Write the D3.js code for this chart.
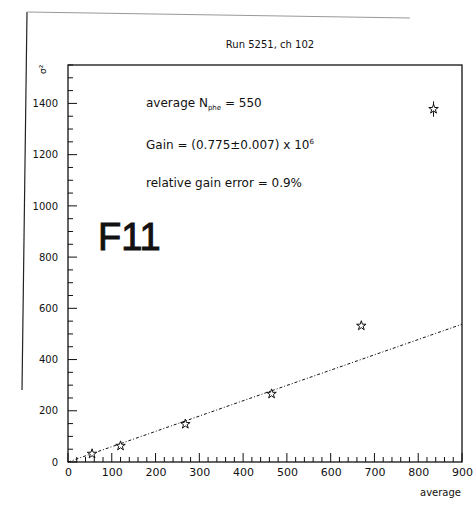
<!DOCTYPE html>
<html>
<head>
<meta charset="utf-8">
<script src="https://cdn.jsdelivr.net/npm/d3@7"></script>
<style>
  body { margin: 0; background: #fff; }
  text { font-family: "DejaVu Sans", sans-serif; fill: #111; }
</style>
</head>
<body>
<div id="chart"></div>
<script>

// points
var avgValues = [55, 120, 268, 465, 670, 835];
var sigmaValues = [32, 63, 148, 266, 532, 1378];
var sigmaErrors = [0, 0, 0, 0, 0, 30];
var fitLine = [[0, 0], [900, 538]];
var xTicks = [0, 100, 200, 300, 400, 500, 600, 700, 800, 900];
var yTicks = [0, 200, 400, 600, 800, 1000, 1200, 1400];

var margin = {top: 65, right: 14, bottom: 43, left: 68},
    width = 476 - margin.left - margin.right,
    height = 505 - margin.top - margin.bottom;

var x = d3.scaleLinear().domain([0, 900]).range([0, width]);
var y = d3.scaleLinear().domain([0, 1550]).range([height, 0]);

var root = d3.select("#chart").append("svg")
    .attr("width", 476)
    .attr("height", 505);

// outer scan frame
root.append("path")
    .attr("d", "M22,390 L27,12")
    .attr("fill", "none").attr("stroke", "#222").attr("stroke-width", 1.2);
root.append("path")
    .attr("d", "M27,12 L410,18")
    .attr("fill", "none").attr("stroke", "#999").attr("stroke-width", 1);

root.append("text")
    .attr("x", 270).attr("y", 48)
    .attr("text-anchor", "middle")
    .style("font-size", "10px")
    .text("Run 5251, ch 102");

root.append("text")
    .attr("transform", "translate(46,74) rotate(-90)")
    .style("font-size", "9px")
    .text("σ²");

var svg = root.append("g")
    .attr("transform", "translate(" + margin.left + "," + margin.top + ")");

svg.append("rect")
    .attr("width", width).attr("height", height)
    .attr("fill", "none").attr("stroke", "#111").attr("stroke-width", 1.3);

// minor ticks
svg.append("g").selectAll("line")
    .data(d3.range(0, 901, 20))
    .enter().append("line")
    .attr("x1", function(d) { return x(d); })
    .attr("x2", function(d) { return x(d); })
    .attr("y1", height)
    .attr("y2", function(d) { return d % 100 == 0 ? height - 9 : height - 5; })
    .attr("stroke", "#111");

svg.append("g").selectAll("line")
    .data(d3.range(0, 1551, 50))
    .enter().append("line")
    .attr("y1", function(d) { return y(d); })
    .attr("y2", function(d) { return y(d); })
    .attr("x1", 0)
    .attr("x2", function(d) { return d % 200 == 0 ? 9 : 5; })
    .attr("stroke", "#111");

var xAxis = d3.axisBottom(x).tickValues(xTicks).tickSize(0).tickPadding(6);
var yAxis = d3.axisLeft(y).tickValues(yTicks).tickFormat(d3.format("d"))
    .tickSize(0).tickPadding(10);

svg.append("g")
    .attr("class", "x_axis")
    .attr("transform", "translate(0," + height + ")")
    .call(xAxis)
    .call(function(g) { g.select(".domain").remove(); })
    .selectAll("text").style("font-size", "11px");

svg.append("g")
    .attr("class", "y_axis")
    .call(yAxis)
    .call(function(g) { g.select(".domain").remove(); })
    .selectAll("text").style("font-size", "10px");

root.append("text")
    .attr("x", 461).attr("y", 496)
    .attr("text-anchor", "end")
    .style("font-size", "10px")
    .text("average");

// fit line
svg.append("path")
    .datum(fitLine)
    .attr("d", d3.line()
        .x(function(d) { return x(d[0]); })
        .y(function(d) { return y(d[1]); }))
    .attr("fill", "none")
    .attr("stroke", "#111")
    .attr("stroke-width", 1)
    .attr("stroke-dasharray", "3,2,1,2");

var points = avgValues.map(function(v, i) {
    return {avg: v, sigma: sigmaValues[i], err: sigmaErrors[i]};
});

svg.selectAll(".err")
    .data(points.filter(function(d) { return d.err > 0; }))
    .enter().append("line")
    .attr("class", "err")
    .attr("x1", function(d) { return x(d.avg); })
    .attr("x2", function(d) { return x(d.avg); })
    .attr("y1", function(d) { return y(d.sigma - d.err); })
    .attr("y2", function(d) { return y(d.sigma + d.err); })
    .attr("stroke", "#111");

svg.selectAll(".star")
    .data(points)
    .enter().append("path")
    .attr("class", "star")
    .attr("transform", function(d) { return "translate(" + x(d.avg) + "," + y(d.sigma) + ")"; })
    .attr("d", d3.symbol().type(d3.symbolStar).size(28))
    .attr("fill", "#fff")
    .attr("stroke", "#111")
    .attr("stroke-width", 1);

// annotations
var notes = svg.append("g").style("font-size", "12px");
var t1 = notes.append("text").attr("x", 78).attr("y", 42);
t1.append("tspan").text("average N");
t1.append("tspan").attr("dy", 3).style("font-size", "7px").text("phe");
t1.append("tspan").attr("dy", -3).text(" = 550");

var t2 = notes.append("text").attr("x", 78).attr("y", 84);
t2.append("tspan").text("Gain = (0.775±0.007) x 10");
t2.append("tspan").attr("dy", -5).style("font-size", "7px").text("6");

notes.append("text").attr("x", 78).attr("y", 122)
    .text("relative gain error = 0.9%");

// handwritten tag
root.append("text")
    .attr("x", 98).attr("y", 250)
    .style("font-size", "38px")
    .style("font-family", "'Liberation Sans', sans-serif")
    .style("stroke", "#111")
    .style("stroke-width", 1)
    .text("F11");

</script>
</body>
</html>
